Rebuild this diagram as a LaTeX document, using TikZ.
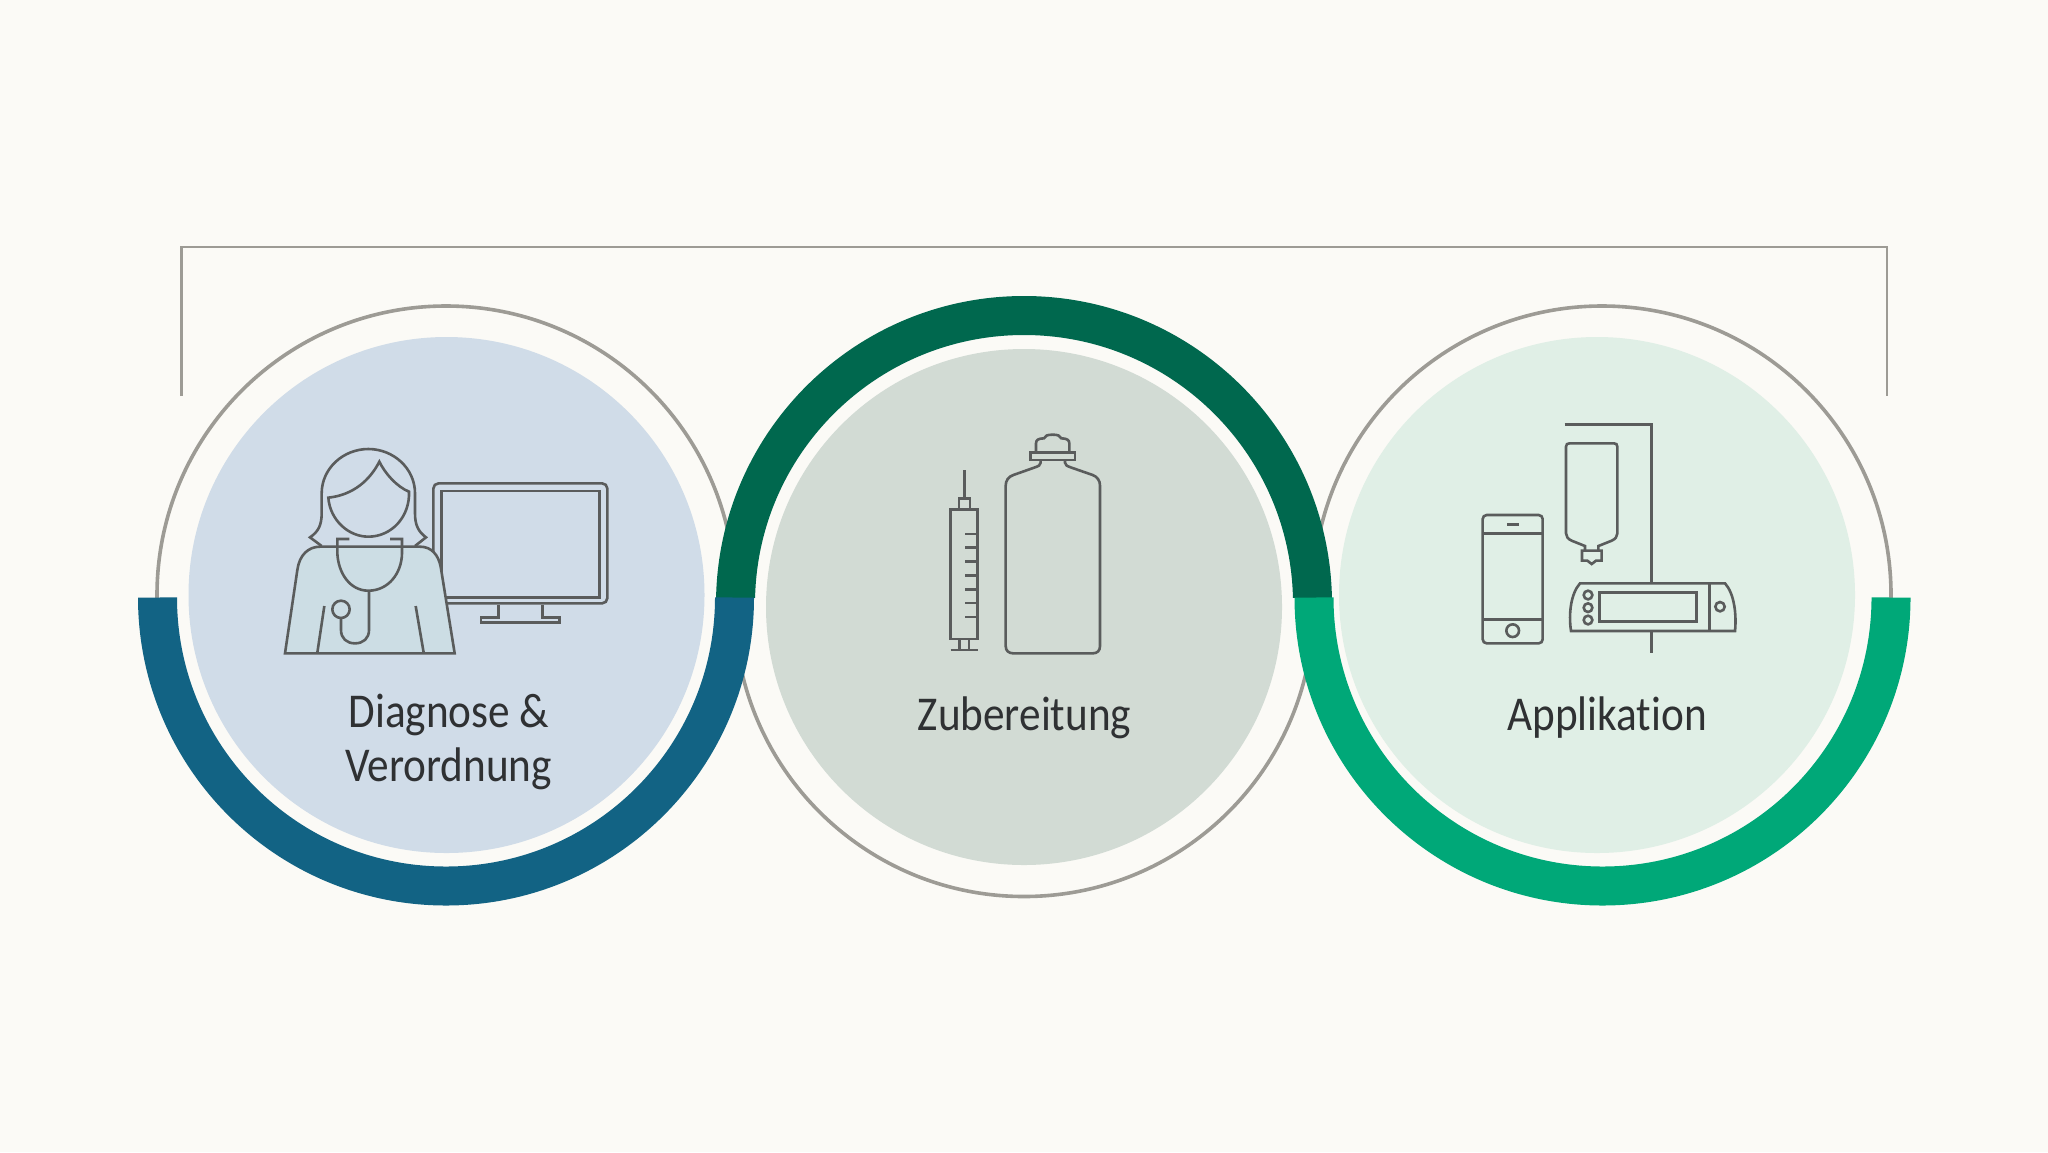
\documentclass[tikz,border=0pt]{standalone}
\usepackage{fontspec}
\setmainfont{Carlito}[FakeStretch=0.89,Ligatures=NoCommon]
\definecolor{bgc}{HTML}{FBFAF6}
\definecolor{fillA}{HTML}{D0DCE8}
\definecolor{fillB}{HTML}{D2DBD4}
\definecolor{fillC}{HTML}{E0EFE6}
\definecolor{arcA}{HTML}{126384}
\definecolor{arcB}{HTML}{00684E}
\definecolor{arcC}{HTML}{00A878}
\definecolor{ringc}{HTML}{9D9B95}
\definecolor{iconc}{HTML}{5A5C5C}
\definecolor{bodyc}{HTML}{CCDDE4}
\definecolor{textc}{HTML}{2F3133}
\tikzset{
  ringline/.style={draw=ringc,line width=1.8pt},
  thickarc/.style={line width=19.5pt},
  icon/.style={draw=iconc,line width=1.3pt,line join=miter},
  label/.style={font=\fontsize{24.3}{24.3}\selectfont,text=textc,anchor=base,inner sep=0pt},
  zoomed/.style={x=0.16667pt,y=-0.16667pt}
}
\begin{document}
\begin{tikzpicture}[x=0.5pt,y=-0.5pt]
\fill[bgc] (0,0) rectangle (2048,1152);
\useasboundingbox (0,0) rectangle (2048,1152);
% bracket
\draw[draw=ringc,line width=1.4pt] (181.5,396) -- (181.5,247) -- (1887,247) -- (1887,396);
% rings
\draw[ringline] (446,595) circle[radius=289];
\draw[ringline] (1024,607) circle[radius=289.5];
\draw[ringline] (1602,595) circle[radius=289];
% discs
\fill[fillA] (446.5,595) circle[radius=258];
\fill[fillB] (1024,607) circle[radius=258];
\fill[fillC] (1597,595) circle[radius=258];
% thick arcs
\begin{scope}
\clip (600,200) rectangle (1450,597.5);
\draw[arcB,thickarc] (1024,604) circle[radius=288.5];
\end{scope}
\draw[arcA,thickarc] (157.5,597.5) arc[start angle=180,end angle=0,radius=288.5];
\draw[arcC,thickarc] (1314,597.5) arc[start angle=180,end angle=0,radius=288.5];
% doctor icon
\begin{scope}[shift={(260,430)},zoomed]
\draw[icon,rounded corners=2.6pt] (520,520) rectangle (1042,160);
\draw[icon] (545,183) rectangle (1018,503);
\draw[icon] (715,525) -- (715,562) -- (663,562) -- (663,577) -- (898,577) -- (898,562) -- (848,562) -- (848,525);
\draw[icon] (185,348) -- (150,322) .. controls (175,305) and (185,285) .. (185,250) -- (185,190)
  .. controls (185,115) and (250,57) .. (325,57) .. controls (400,57) and (465,115) .. (465,190)
  -- (465,250) .. controls (465,285) and (475,305) .. (498,322) -- (465,348);
\draw[icon] (205,203) .. controls (210,270) and (265,320) .. (325,320) .. controls (395,320) and (450,260) .. (447,185)
  .. controls (410,170) and (375,130) .. (358,95) .. controls (330,150) and (280,195) .. (205,203) -- cycle;
\draw[icon,fill=bodyc] (75,670) -- (112,420) .. controls (118,375) and (145,350) .. (180,350) -- (480,350)
  .. controls (515,350) and (535,375) .. (542,410) -- (584,670) -- cycle;
\draw[icon] (268,327) -- (232,327) -- (232,370) .. controls (235,430) and (270,482) .. (325,482)
  .. controls (385,482) and (425,430) .. (426,370) -- (426,327) -- (390,327);
\draw[icon] (327,482) -- (327,600) .. controls (327,625) and (310,640) .. (285,640)
  .. controls (260,640) and (243,625) .. (243,600) -- (243,565);
\draw[icon] (243,538) circle[radius=26];
\draw[icon] (193,528) -- (172,668);
\draw[icon] (467,528) -- (491,668);
\end{scope}
% syringe and bottle
\begin{scope}[shift={(930,420)},zoomed]
\draw[icon] (103,150) -- (103,235);
\draw[icon] (87,268) rectangle (120,235);
\draw[icon] (62,657) rectangle (143,268);
\foreach \ty in {342,383,425,467,508,549,591} \draw[icon] (105,\ty) -- (143,\ty);
\draw[icon] (88,657) -- (88,690);
\draw[icon] (117,657) -- (117,690);
\draw[icon] (62,690) -- (143,690);
\draw[icon] (332,122) -- (332,128) .. controls (332,136) and (325,138) .. (315,142) -- (250,165)
  .. controls (235,170) and (227,182) .. (227,197) -- (227,678) .. controls (227,692) and (236,700) .. (250,700)
  -- (488,700) .. controls (502,700) and (510,692) .. (510,678) -- (510,197)
  .. controls (510,182) and (502,170) .. (488,165) -- (422,142) .. controls (412,138) and (405,136) .. (405,128) -- (405,122);
\draw[icon] (302,120) rectangle (435,97);
\draw[icon] (318,97) -- (318,70) .. controls (318,60) and (325,55) .. (342,55)
  .. controls (345,47) and (352,44) .. (368,44) .. controls (384,44) and (390,47) .. (394,55)
  .. controls (410,55) and (418,60) .. (418,70) -- (418,97);
\end{scope}
% phone, bag, pump
\begin{scope}[shift={(1470,410)},zoomed]
\draw[icon] (284,44) -- (544,44) -- (544,518);
\draw[icon] (544,665) -- (544,730);
\draw[icon] (345,420) -- (345,408) -- (305,392) .. controls (294,387) and (288,380) .. (288,370) -- (288,110)
  .. controls (288,103) and (292,100) .. (298,100) -- (432,100) .. controls (438,100) and (442,103) .. (442,110)
  -- (442,370) .. controls (442,380) and (436,387) .. (425,392) -- (385,408) -- (385,420);
\draw[icon] (336,422) -- (395,422) -- (395,452) -- (378,452) -- (365,462) -- (352,452) -- (336,452) -- cycle;
\draw[icon,rounded corners=2pt] (38,700) rectangle (218,315);
\draw[icon] (38,370) -- (218,370);
\draw[icon] (38,628) -- (218,628);
\draw[icon] (112,344) -- (146,344);
\draw[icon] (128,662) circle[radius=19];
\draw[icon] (303,663) -- (795,663) .. controls (800,610) and (792,550) .. (765,520) -- (330,520)
  .. controls (303,550) and (295,610) .. (303,663) -- cycle;
\draw[icon] (388,635) rectangle (680,548);
\draw[icon] (354,555) circle[radius=13];
\draw[icon] (354,593) circle[radius=13];
\draw[icon] (354,630) circle[radius=13];
\draw[icon] (718,520) -- (718,663);
\draw[icon] (750,590) circle[radius=14];
\end{scope}
% labels
\node[label] (diag) at (449,727.7) {Diagnose \&};
\node[label] (verord) at (448.5,781.7) {Verordnung};
\node[label] (zub) at (1024.5,730) {Zubereitung};
\node[label] (appl) at (1607,730) {Applikation};
\end{tikzpicture}
\end{document}
